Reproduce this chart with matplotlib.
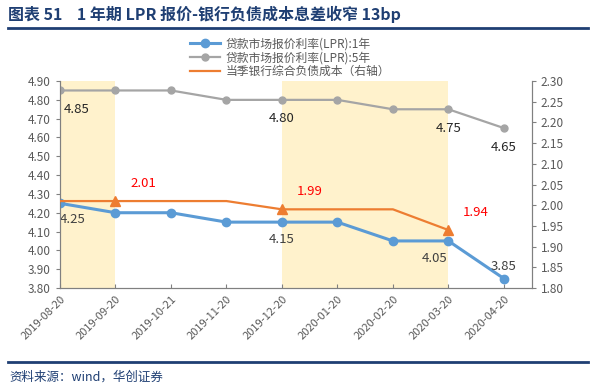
import numpy as np
import matplotlib.pyplot as plt

plt.rcParams['font.family'] = ['Noto Sans CJK SC', 'DejaVu Sans']

# 数据
dates = ['2019-08-20', '2019-09-20', '2019-10-21', '2019-11-20', '2019-12-20',
         '2020-01-20', '2020-02-20', '2020-03-20', '2020-04-20']
lpr_1y = [4.25, 4.20, 4.20, 4.15, 4.15, 4.15, 4.05, 4.05, 3.85]
lpr_5y = [4.85, 4.85, 4.85, 4.80, 4.80, 4.80, 4.75, 4.75, 4.65]
cost = [2.01, 2.01, 2.01, 2.01, 1.99, 1.99, 1.99, 1.94, np.nan]
cost_marks = [1, 4, 7]
shade = [(0, 1), (4, 7)]
lbl_1y = [0, 4, 7, 8]
lbl_5y = [0, 4, 7, 8]

blue = '#5B9BD5'
gray = '#A5A5A5'
orange = '#ED7D31'
navy = '#1F3F73'
tickc = '#595959'

fig = plt.figure(figsize=(5.97, 3.86), dpi=100)
ax = fig.add_axes([0.1005, 0.254, 0.79, 0.536])
ax2 = ax.twinx()

x = np.arange(len(dates))
for a, b in shade:
    ax.axvspan(a, b, color='#FFF2CC', zorder=0, lw=0)

l1, = ax.plot(x, lpr_1y, color=blue, lw=2.2, marker='o', ms=6, zorder=3)
l2, = ax.plot(x, lpr_5y, color=gray, lw=1.6, marker='o', ms=5, zorder=3)
l3, = ax2.plot(x, cost, color=orange, lw=1.6, marker='^', ms=7,
               markevery=cost_marks, zorder=3)

ax.set_xlim(0, 8.5)
ax.set_ylim(3.80, 4.90)
ax.set_yticks(np.arange(3.80, 4.901, 0.10))
ax.set_yticklabels(['%.2f' % v for v in np.arange(3.80, 4.901, 0.10)])
ax2.set_ylim(1.80, 2.30)
ax2.set_yticks(np.arange(1.80, 2.301, 0.05))
ax2.set_yticklabels(['%.2f' % v for v in np.arange(1.80, 2.301, 0.05)])
ax.set_xticks(x)
ax.set_xticklabels(dates, rotation=45, ha='right', rotation_mode='anchor')

for a in (ax, ax2):
    a.spines['top'].set_visible(False)
    for s in ('left', 'right', 'bottom'):
        a.spines[s].set_color('#808080')
    a.tick_params(colors='#808080', labelcolor=tickc, labelsize=8.5, length=3)
ax.tick_params(axis='x', direction='in', labelsize=8, pad=4)

# 数据标签
for i in lbl_5y:
    dx = 3 if i == 0 else 0
    ax.annotate('%.2f' % lpr_5y[i], (x[i], lpr_5y[i]), xytext=(dx, -9),
                textcoords='offset points', ha='left' if i == 0 else 'center',
                va='top', fontsize=9.5, color='#262626', zorder=5)
for i in lbl_1y:
    if i == 8:
        off, va, ha = (0, 4), 'bottom', 'center'
    elif i == 7:
        off, va, ha = (-10, -8), 'top', 'center'
    elif i == 0:
        off, va, ha = (0, -7), 'top', 'left'
    else:
        off, va, ha = (0, -8), 'top', 'center'
    ax.annotate('%.2f' % lpr_1y[i], (x[i], lpr_1y[i]), xytext=off,
                textcoords='offset points', ha=ha, va=va,
                fontsize=9.5, color='#404040', zorder=5)
for i in cost_marks:
    ax2.annotate('%.2f' % cost[i], (x[i], cost[i]), xytext=(20, 8),
                 textcoords='offset points', ha='center', va='bottom',
                 fontsize=9.5, color='#FF0000', zorder=5)

leg = fig.legend([l1, l2, l3],
                 ['贷款市场报价利率(LPR):1年', '贷款市场报价利率(LPR):5年',
                  '当季银行综合负债成本（右轴）'],
                 loc='upper left', bbox_to_anchor=(0.31, 0.915), frameon=False,
                 fontsize=8.5, labelspacing=0.05, handlelength=2.6,
                 handletextpad=0.4, borderaxespad=0)
for t in leg.get_texts():
    t.set_color(tickc)
for h in leg.legend_handles:
    h.set_marker('')
leg.legend_handles[0].set_marker('o')
leg.legend_handles[1].set_marker('o')

# 标题与脚注
fig.text(0.014, 0.962, '图表 51    1 年期 LPR 报价-银行负债成本息差收窄 13bp',
         fontsize=11.5, fontweight='bold', color=navy, va='center')
fig.add_artist(plt.Line2D([0.013, 0.985], [0.927, 0.927], color=navy, lw=2))
fig.add_artist(plt.Line2D([0.013, 0.985], [0.062, 0.062], color=navy, lw=2))
fig.text(0.016, 0.022, '资料来源：wind，华创证券', fontsize=9, color=navy,
         style='italic', va='center')

fig.savefig('out.png', dpi=100)
